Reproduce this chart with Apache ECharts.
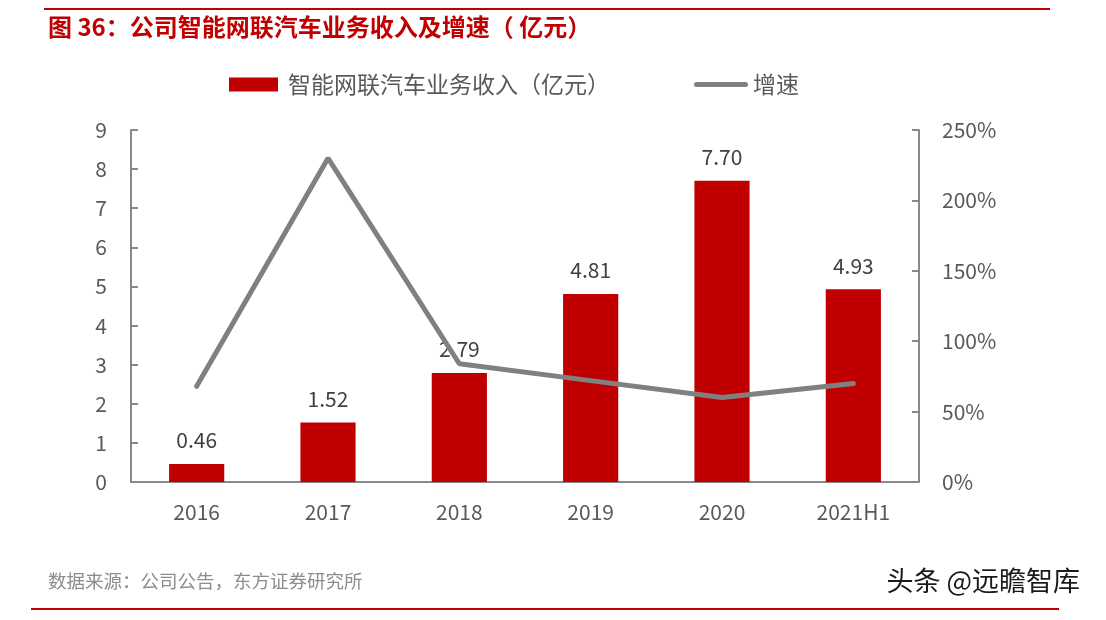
<!DOCTYPE html>
<html><head><meta charset="utf-8">
<script src="https://cdn.jsdelivr.net/npm/echarts@6/dist/echarts.min.js"></script>
<style>html,body{margin:0;padding:0;background:#fff}#c{width:1106px;height:620px}</style>
</head><body><div id="c"></div>
<script>
const categories = ['2016','2017','2018','2019','2020','2021H1'];
const revenue = [0.46, 1.52, 2.79, 4.81, 7.70, 4.93];
const growth = [68, 230, 84, 72, 60, 70];
const leftTicks = [0, 9, 1];
const rightTicks = [0, 250, 50];
const FONT = '"Noto Sans CJK SC","Noto Sans",sans-serif';
const chart = echarts.init(document.getElementById('c'));
chart.setOption({
  backgroundColor: '#fff',
  animation: false,
  textStyle: {fontFamily: FONT},
  grid: {left: 131, right: 187, top: 130, bottom: 138},
  legend: {
    top: 68, left: 224, itemGap: 84,
    itemWidth: 54, itemHeight: 14,
    textStyle: {fontSize: 23, color: '#595959', fontFamily: FONT},
    data: [
      {name: '智能网联汽车业务收入（亿元）', icon: 'path://M0,0h49v14h-49z M54,14'},
      {name: '增速', icon: 'path://M0,0M54,14M2.5,4.5h49a2.5,2.5 0 0 1 0,5h-49a2.5,2.5 0 0 1 0,-5z'}
    ]
  },
  xAxis: {
    type: 'category', data: categories,
    axisLine: {lineStyle: {color: '#898989', width: 2}},
    axisTick: {show: false},
    axisLabel: {fontSize: 21, color: '#595959', margin: 20, fontFamily: FONT}
  },
  yAxis: [
    {type: 'value', min: leftTicks[0], max: leftTicks[1], interval: leftTicks[2],
     axisLine: {show: true, lineStyle: {color: '#898989', width: 2}},
     axisTick: {show: true, inside: true, length: 7, lineStyle: {color: '#898989', width: 2}},
     splitLine: {show: false},
     axisLabel: {fontSize: 21, color: '#595959', margin: 24, fontFamily: FONT}},
    {type: 'value', min: rightTicks[0], max: rightTicks[1], interval: rightTicks[2],
     axisLine: {show: true, lineStyle: {color: '#898989', width: 2}},
     axisTick: {show: true, inside: true, length: 7, lineStyle: {color: '#898989', width: 2}},
     splitLine: {show: false},
     axisLabel: {fontSize: 21, color: '#595959', margin: 23, formatter: '{value}%', fontFamily: FONT}}
  ],
  series: [
    {name: '智能网联汽车业务收入（亿元）', type: 'bar', data: revenue, yAxisIndex: 0,
     barCategoryGap: '58%',
     itemStyle: {color: '#C00000'},
     label: {show: true, position: 'top', distance: 13, fontSize: 21, color: '#404040',
             formatter: p => p.value.toFixed(2), fontFamily: FONT}},
    {name: '增速', type: 'line', data: growth, yAxisIndex: 1, z: 3,
     symbol: 'none',
     lineStyle: {color: '#808080', width: 5, cap: 'round'},
     itemStyle: {color: '#808080'}}
  ],
  graphic: [
    {type: 'rect', shape: {x: 44, y: 8, width: 1006, height: 2}, style: {fill: '#C00000'}},
    {type: 'text', left: 48, top: 15, style: {text: '图 36：公司智能网联汽车业务收入及增速（ 亿元）', fill: '#C00000', font: 'bold 24px ' + FONT}},
    {type: 'text', left: 48, top: 572, style: {text: '数据来源：公司公告，东方证券研究所', fill: '#8c8c8c', font: '18.5px ' + FONT}},
    {type: 'text', left: 886, top: 567, style: {text: '头条 @远瞻智库', fill: '#1a1a1a', stroke: '#fff', lineWidth: 1, font: '27px ' + FONT}},
    {type: 'rect', shape: {x: 31, y: 608, width: 1028, height: 2}, style: {fill: '#C00000'}}
  ]
});
</script></body></html>
